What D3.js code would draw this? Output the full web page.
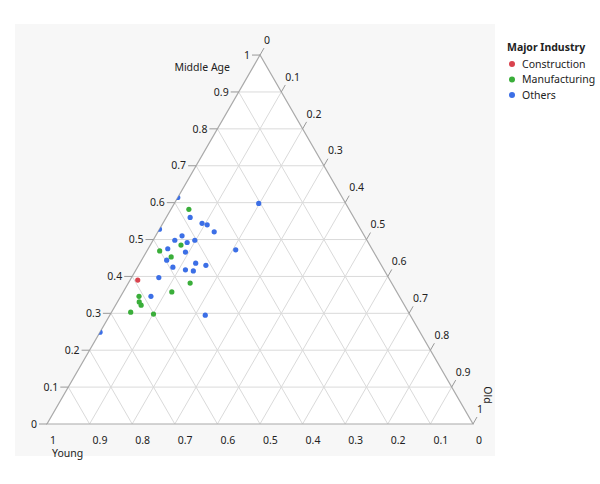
<!DOCTYPE html>
<html><head><meta charset="utf-8">
<script src="https://cdn.jsdelivr.net/npm/d3@7"></script>
<style>body{margin:0;background:#fff;}svg{display:block;font-family:"Noto Sans",sans-serif;}</style>
</head><body>
<svg id="c" width="600" height="484"></svg>
<script>
// ---- data ----
const industry = ["Others","Manufacturing","Others","Others","Others","Others","Others","Others","Others","Others","Others","Others","Manufacturing","Others","Manufacturing","Others","Others","Manufacturing","Others","Others","Others","Others","Others","Others","Construction","Others","Manufacturing","Manufacturing","Others","Manufacturing","Manufacturing","Manufacturing","Manufacturing","Manufacturing","Others","Others"];
const young  = [0.386,0.376,0.204,0.384,0.364,0.354,0.347,0.472,0.428,0.451,0.425,0.404,0.443,0.321,0.501,0.479,0.442,0.482,0.497,0.433,0.412,0.492,0.466,0.449,0.592,0.539,0.473,0.528,0.583,0.611,0.618,0.618,0.652,0.601,0.481,0.751];
const middle = [0.614,0.582,0.598,0.560,0.544,0.540,0.521,0.528,0.510,0.498,0.492,0.498,0.485,0.472,0.469,0.475,0.466,0.453,0.444,0.436,0.430,0.425,0.418,0.415,0.390,0.397,0.382,0.358,0.346,0.346,0.331,0.322,0.303,0.298,0.295,0.249];
const old    = [0.000,0.042,0.198,0.056,0.092,0.106,0.132,0.000,0.062,0.051,0.083,0.098,0.072,0.207,0.030,0.046,0.092,0.065,0.059,0.131,0.158,0.083,0.116,0.136,0.018,0.064,0.145,0.114,0.071,0.043,0.051,0.060,0.045,0.101,0.224,0.000];
const categories = ["Construction","Manufacturing","Others"];
const colors = ["#d9434e","#3aae3a","#3c6fe6"];
const ticks = [0,0.1,0.2,0.3,0.4,0.5,0.6,0.7,0.8,0.9,1];
const tickLabels = ["0","0.1","0.2","0.3","0.4","0.5","0.6","0.7","0.8","0.9","1"];

// ---- geometry ----
const svg = d3.select("#c");
const X0 = 47, BASE = 426, Y0 = 424;
const side = d3.scaleLinear().domain([0,1]).range([0, BASE]);
const midY = d3.scaleLinear().domain([0,1]).range([Y0, Y0 - BASE*Math.sqrt(3)/2]);
const color = d3.scaleOrdinal().domain(categories).range(colors);
function P(yg, md, od){ return [X0 + side(od) + side(md)/2, midY(md)]; }

svg.append("rect").attr("x",15).attr("y",24).attr("width",480).attr("height",432).attr("fill","#f7f7f7");

const A = P(1,0,0), B = P(0,0,1), C = P(0,1,0);
svg.append("path").attr("d", d3.line()([A,B,C])+"Z").attr("fill","#fff");

svg.append("clipPath").attr("id","tri").append("path").attr("d", d3.line()([A,B,C])+"Z");

// gridlines
const g = svg.append("g").attr("stroke","#dadada").attr("stroke-width",1).attr("fill","none");
ticks.slice(1,-1).forEach(t=>{
  g.append("path").attr("d", d3.line()([P(1-t,t,0),P(0,t,1-t)]));
  g.append("path").attr("d", d3.line()([P(1-t,0,t),P(0,1-t,t)]));
  g.append("path").attr("d", d3.line()([P(t,0,1-t),P(t,1-t,0)]));
});
// edges
svg.append("path").attr("d", d3.line()([A,B,C])+"Z").attr("fill","none").attr("stroke","#aaaaaa").attr("stroke-width",1.2);

const FS = 10.5;
const lab = svg.append("g").attr("font-size",FS).attr("fill","#222");
const tk = svg.append("g").attr("stroke","#999").attr("stroke-width",1);
ticks.forEach((t,i)=>{
  // Middle Age (left)
  let p = P(1-t,t,0);
  tk.append("line").attr("x1",p[0]-8).attr("x2",p[0]).attr("y1",p[1]).attr("y2",p[1]);
  lab.append("text").attr("x",p[0]-10).attr("y",p[1]).attr("dy","0.35em").attr("text-anchor","end").text(tickLabels[i]);
  // Old (right)
  p = P(0,1-t,t);
  tk.append("line").attr("x1",p[0]).attr("x2",p[0]+4).attr("y1",p[1]).attr("y2",p[1]-7);
  lab.append("text").attr("x",p[0]+4).attr("y",p[1]-15).attr("dy","0.35em").text(tickLabels[i]);
  // Young (bottom)
  p = P(t,0,1-t);
  lab.append("text").attr("x",p[0]+3).attr("y",p[1]+16).attr("dy","0.35em").text(tickLabels[i]);
});

// axis titles
lab.append("text").attr("x",C[0]-30).attr("y",C[1]+12).attr("dy","0.35em").attr("text-anchor","end").text("Middle Age");
lab.append("text").attr("x",A[0]+5).attr("y",A[1]+29).attr("dy","0.35em").text("Young");
lab.append("text").attr("transform",`translate(${B[0]+15},${B[1]-29}) rotate(90)`).attr("text-anchor","middle").attr("dy","0.35em").text("Old");

// points
svg.append("g").attr("clip-path","url(#tri)").selectAll("circle").data(industry).join("circle")
  .attr("cx",(d,i)=>P(young[i],middle[i],old[i])[0])
  .attr("cy",(d,i)=>P(young[i],middle[i],old[i])[1])
  .attr("r",2.6).attr("fill",d=>color(d));

// legend
const lg = svg.append("g").attr("font-size",FS).attr("fill","#222");
lg.append("text").attr("x",507).attr("y",47).attr("dy","0.35em").attr("font-weight","bold").text("Major Industry");
categories.forEach((c,i)=>{
  lg.append("circle").attr("cx",512).attr("cy",64+i*15.5).attr("r",3).attr("fill",color(c));
  lg.append("text").attr("x",522).attr("y",64+i*15.5).attr("dy","0.35em").text(c);
});
</script>
</body></html>
